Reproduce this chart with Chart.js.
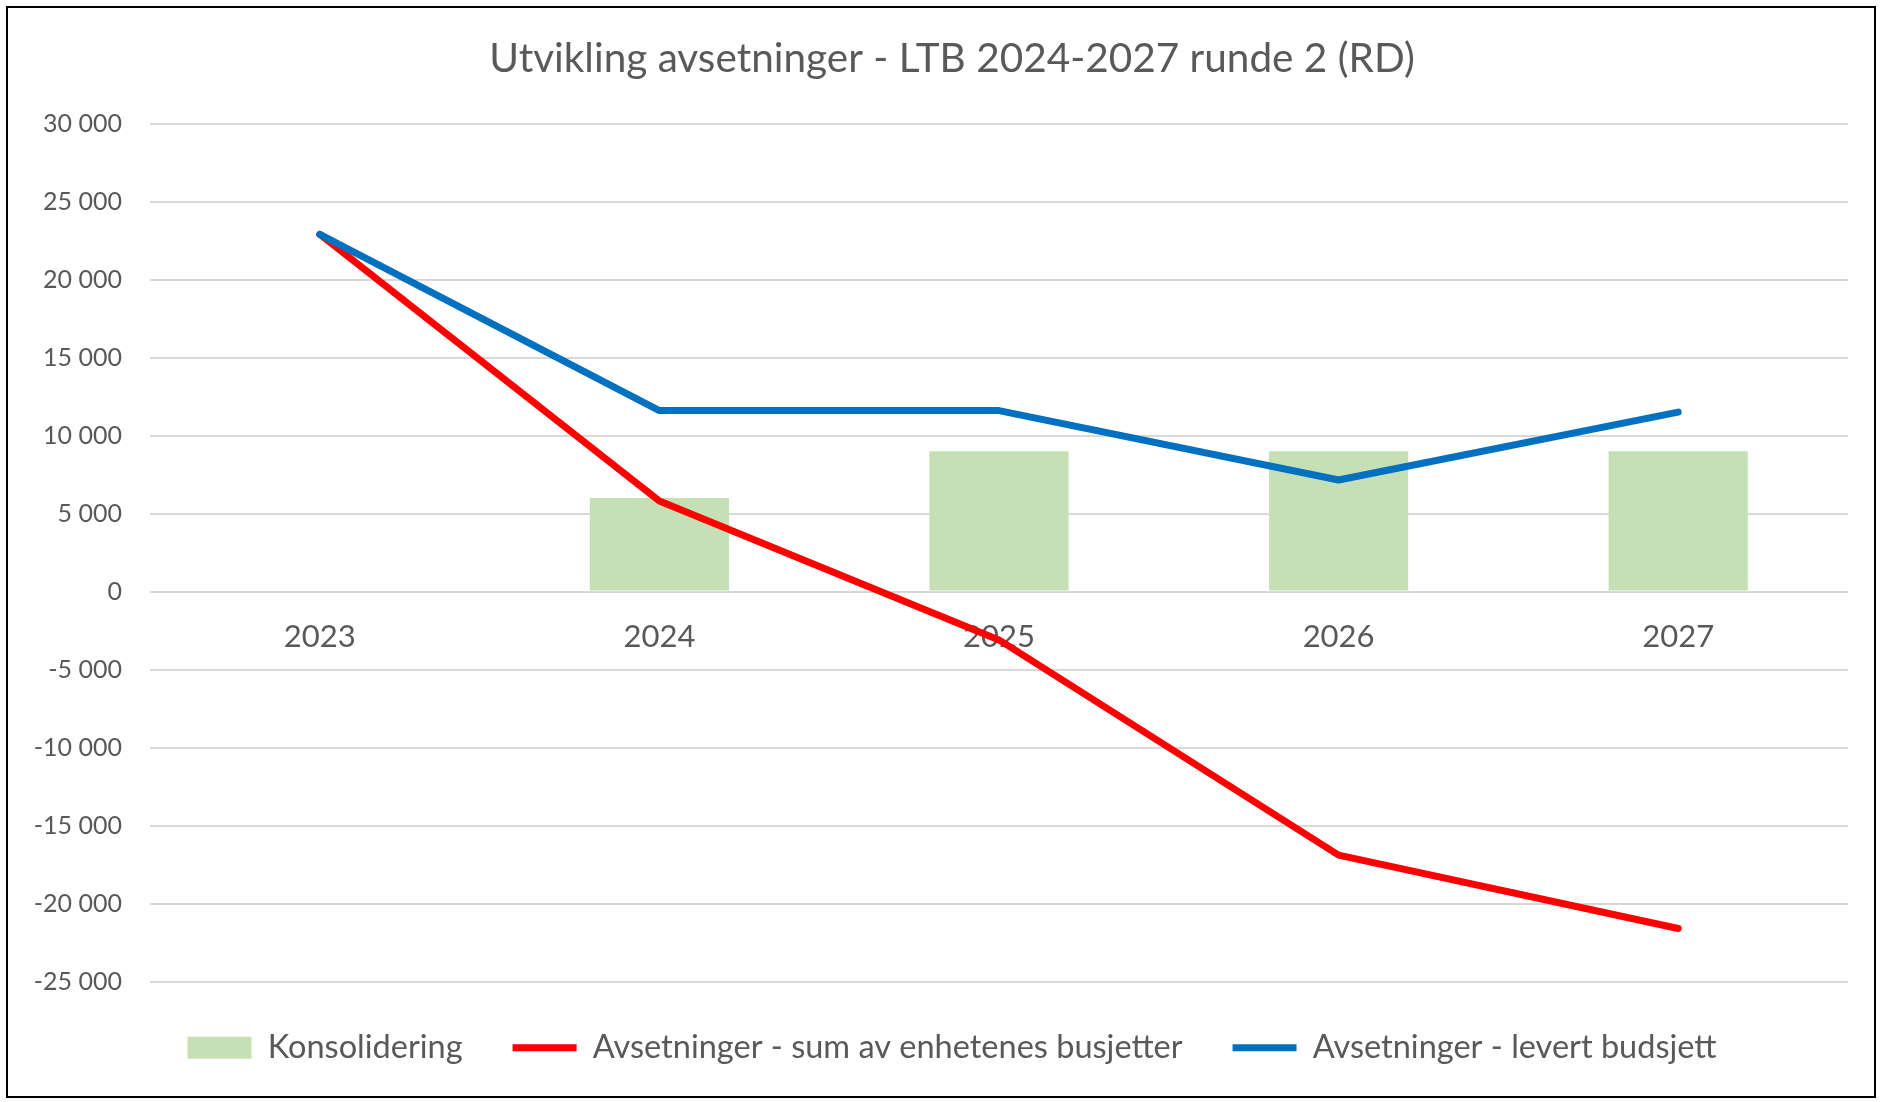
<!DOCTYPE html>
<html>
<head>
<meta charset="utf-8">
<script src="https://cdn.jsdelivr.net/npm/chart.js@4.4.1/dist/chart.umd.min.js"></script>
<style>
  html, body { margin: 0; padding: 0; background: #fff; }
  canvas { display: block; }
</style>
</head>
<body>
<canvas id="chart" width="1881" height="1102"></canvas>
<script>
const years = ['2023', '2024', '2025', '2026', '2027'];
const konsolidering = [null, 6000, 9000, 9000, 9000];
const sumEnheter = [22900, 5800, -3100, -16900, -21600];
const levertBudsjett = [22900, 11600, 11600, 7150, 11500];

const seriesNames = [
    'Konsolidering',
    'Avsetninger - sum av enhetenes busjetter',
    'Avsetninger - levert budsjett'
];

const grey = '#595959';
const font = 'Lato';

// thousands with a space, like the Norwegian Excel original
const fmt = v => {
    const s = String(Math.abs(v)).replace(/\B(?=(\d{3})+(?!\d))/g, ' ');
    return v < 0 ? '-' + s : s;
};

// outer frame like the exported chart area
const frame = {
    id: 'frame',
    afterDraw(chart) {
        const ctx = chart.ctx;
        ctx.save();
        ctx.strokeStyle = '#000';
        ctx.lineWidth = 2;
        ctx.strokeRect(7, 7, 1868, 1090);
        ctx.restore();
    }
};

new Chart(document.getElementById('chart'), {
    data: {
        labels: years,
        datasets: [
            {
                type: 'bar',
                label: seriesNames[0],
                data: konsolidering,
                backgroundColor: '#C5E0B4',
                borderWidth: 0,
                categoryPercentage: 1,
                barPercentage: 0.41,
                order: 3
            },
            {
                type: 'line',
                label: seriesNames[1],
                data: sumEnheter,
                borderColor: '#FF0000',
                backgroundColor: '#FF0000',
                borderWidth: 7,
                borderCapStyle: 'round',
                borderJoinStyle: 'round',
                pointRadius: 0,
                tension: 0,
                order: 2
            },
            {
                type: 'line',
                label: seriesNames[2],
                data: levertBudsjett,
                borderColor: '#0070C0',
                backgroundColor: '#0070C0',
                borderWidth: 7,
                borderCapStyle: 'round',
                borderJoinStyle: 'round',
                pointRadius: 0,
                tension: 0,
                order: 1
            }
        ]
    },
    options: {
        responsive: false,
        animation: false,
        devicePixelRatio: 1,
        layout: {
            // title and legend are centred a bit right of the canvas middle
            padding: { left: 23, right: 0, top: 0, bottom: 28 }
        },
        plugins: {
            title: {
                display: true,
                text: 'Utvikling avsetninger - LTB 2024-2027 runde 2 (RD)',
                color: grey,
                font: { family: font, size: 40.5, weight: 'normal', lineHeight: 1.2 },
                padding: { top: 35, bottom: 40 }
            },
            legend: {
                position: 'bottom',
                labels: {
                    color: grey,
                    font: { family: font, size: 32.5 },
                    usePointStyle: true,
                    pointStyleWidth: 64,
                    boxHeight: 22,
                    padding: 50,
                    sort: (a, b) => a.datasetIndex - b.datasetIndex,
                    generateLabels(chart) {
                        const items = Chart.defaults.plugins.legend.labels.generateLabels(chart);
                        items.forEach(it => {
                            const ds = chart.data.datasets[it.datasetIndex];
                            it.pointStyle = ds.type === 'line' ? 'line' : 'rect';
                            if (ds.type === 'line') {
                                it.lineWidth = 7;
                                it.strokeStyle = ds.borderColor;
                            }
                        });
                        return items;
                    }
                }
            },
            tooltip: { enabled: false }
        },
        scales: {
            x: {
                position: { y: 0 },
                grid: { display: false, drawTicks: false },
                border: { display: false },
                ticks: {
                    color: grey,
                    font: { family: font, size: 31 },
                    padding: 27
                }
            },
            y: {
                min: -25000,
                max: 30000,
                afterFit(scale) { scale.width = 127; },
                grid: { color: '#D9D9D9', lineWidth: 2, drawTicks: false },
                border: { display: false },
                ticks: {
                    stepSize: 5000,
                    color: grey,
                    font: { family: font, size: 25 },
                    padding: 28,
                    callback: v => fmt(v)
                }
            },
            // empty right-hand spacer so the plot ends where the original does
            yr: {
                type: 'linear',
                position: 'right',
                afterFit(scale) { scale.width = 33; },
                grid: { display: false, drawTicks: false },
                border: { display: false },
                ticks: { display: false }
            }
        }
    },
    plugins: [frame]
});
</script>
</body>
</html>
